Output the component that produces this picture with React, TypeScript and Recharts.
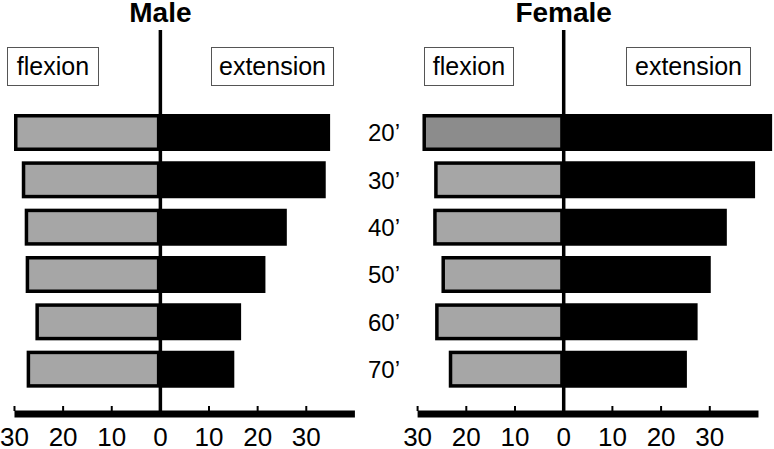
import React from "react";
import { BarChart, Bar, XAxis, YAxis, ReferenceLine, Cell } from "recharts";

const ages = ["20’", "30’", "40’", "50’", "60’", "70’"];
const maleFlexion = [30.1, 28.5, 27.9, 27.7, 25.7, 27.5];
const maleExtension = [34.9, 34.0, 26.0, 21.6, 16.6, 15.2];
const femaleFlexion = [29.0, 26.6, 26.8, 25.1, 26.4, 23.6];
const femaleExtension = [42.8, 39.3, 33.5, 30.2, 27.5, 25.3];
const xTicks = [-30, -20, -10, 0, 10, 20, 30];

const FONT = '"Liberation Sans", Arial, sans-serif';
const GRAY = "#a6a6a6";
const DARK_GRAY = "#8c8c8c";

function buildRows(flexion: number[], extension: number[]) {
  // flexion goes to the left of zero
  return ages.map((age, i) => ({ age, flexion: -flexion[i], extension: extension[i] }));
}

function AxisTick(props: any) {
  const { x, y, payload } = props;
  return (
    <g>
      <line x1={x} x2={x} y1={y - 8} y2={y - 3} stroke="#000" strokeWidth={2} />
      <text x={x} y={y + 32} textAnchor="middle" fontSize={26} fill="#000">
        {Math.abs(payload.value)}
      </text>
    </g>
  );
}

function FlexionBar(props: any) {
  const { x, y, width, height, fill } = props;
  const sw = 3.5;
  const left = Math.min(x, x + width);
  const w = Math.abs(width);
  return (
    <rect
      x={left + sw / 2}
      y={y + sw / 2}
      width={Math.max(w - sw, 0)}
      height={Math.max(height - sw, 0)}
      fill={fill}
      stroke="#000"
      strokeWidth={sw}
    />
  );
}

function LabelBox({ text, left, width }: { text: string; left: number; width: number }) {
  return (
    <div
      style={{
        position: "absolute",
        left,
        top: 47,
        width,
        height: 39,
        boxSizing: "border-box",
        border: "1px solid #555",
        background: "#fff",
        fontSize: 25,
        lineHeight: "37px",
        textAlign: "center",
      }}
    >
      {text}
    </div>
  );
}

interface PanelProps {
  title: string;
  flexion: number[];
  extension: number[];
  darkFirst: boolean;
  showAges: boolean;
  width: number;
  margin: { top: number; right: number; bottom: number; left: number };
  yWidth: number;
}

function Panel({ title, flexion, extension, darkFirst, showAges, width, margin, yWidth }: PanelProps) {
  const rows = buildRows(flexion, extension);
  // the helper axis spans the row indices, so the last index sits on the plot bottom
  const bottom = rows.length - 1;
  return (
    <BarChart
      layout="vertical"
      width={width}
      height={449}
      data={rows}
      margin={margin}
      stackOffset="sign"
      barSize={37}
    >
      <XAxis
        type="number"
        domain={[-30, 43]}
        ticks={xTicks}
        interval={0}
        axisLine={false}
        tickLine={false}
        tickSize={0}
        tickMargin={0}
        height={35}
        tick={(p: any) => <AxisTick {...p} />}
      />
      <YAxis
        yAxisId="cat"
        type="category"
        dataKey="age"
        hide={!showAges}
        width={yWidth}
        axisLine={false}
        tickLine={false}
        tickSize={0}
        tickMargin={17.6}
        padding={{ top: 79, bottom: 21 }}
        tick={{ fontSize: 24, fill: "#000" }}
      />
      <YAxis yAxisId="pos" type="number" domain={[0, bottom]} allowDataOverflow hide />
      <Bar
        yAxisId="cat"
        dataKey="flexion"
        stackId="s"
        fill={GRAY}
        shape={(p: any) => <FlexionBar {...p} />}
        isAnimationActive={false}
      >
        {rows.map((r, i) => (
          <Cell key={r.age} fill={darkFirst && i === 0 ? DARK_GRAY : GRAY} />
        ))}
      </Bar>
      <Bar yAxisId="cat" dataKey="extension" stackId="s" fill="#000" isAnimationActive={false} />
      <ReferenceLine
        yAxisId="pos"
        x={0}
        stroke="#000"
        strokeWidth={3.5}
        label={{ value: title, position: "top", offset: 8, fontSize: 28, fontWeight: 700, fill: "#000" }}
      />
      <ReferenceLine
        yAxisId="pos"
        segment={[
          { x: -30, y: bottom },
          { x: 40, y: bottom },
        ]}
        stroke="#000"
        strokeWidth={7}
      />
    </BarChart>
  );
}

export default function App() {
  return (
    <div
      style={{
        position: "absolute",
        left: 0,
        top: 0,
        width: 774,
        height: 449,
        background: "#fff",
        fontFamily: FONT,
        overflow: "hidden",
      }}
    >
      <div style={{ position: "absolute", left: 0, top: 0 }}>
        <Panel
          title="Male"
          flexion={maleFlexion}
          extension={maleExtension}
          darkFirst={false}
          showAges={false}
          width={372}
          margin={{ top: 30, right: 2.5, bottom: 0, left: 14 }}
          yWidth={0}
        />
      </div>
      <div style={{ position: "absolute", left: 330, top: 0 }}>
        <Panel
          title="Female"
          flexion={femaleFlexion}
          extension={femaleExtension}
          darkFirst={true}
          showAges={true}
          width={444}
          margin={{ top: 30, right: 0.9, bottom: 0, left: 0 }}
          yWidth={87.6}
        />
      </div>
      <LabelBox text="flexion" left={7} width={92} />
      <LabelBox text="extension" left={211} width={123} />
      <LabelBox text="flexion" left={424} width={90} />
      <LabelBox text="extension" left={626} width={125} />
    </div>
  );
}
